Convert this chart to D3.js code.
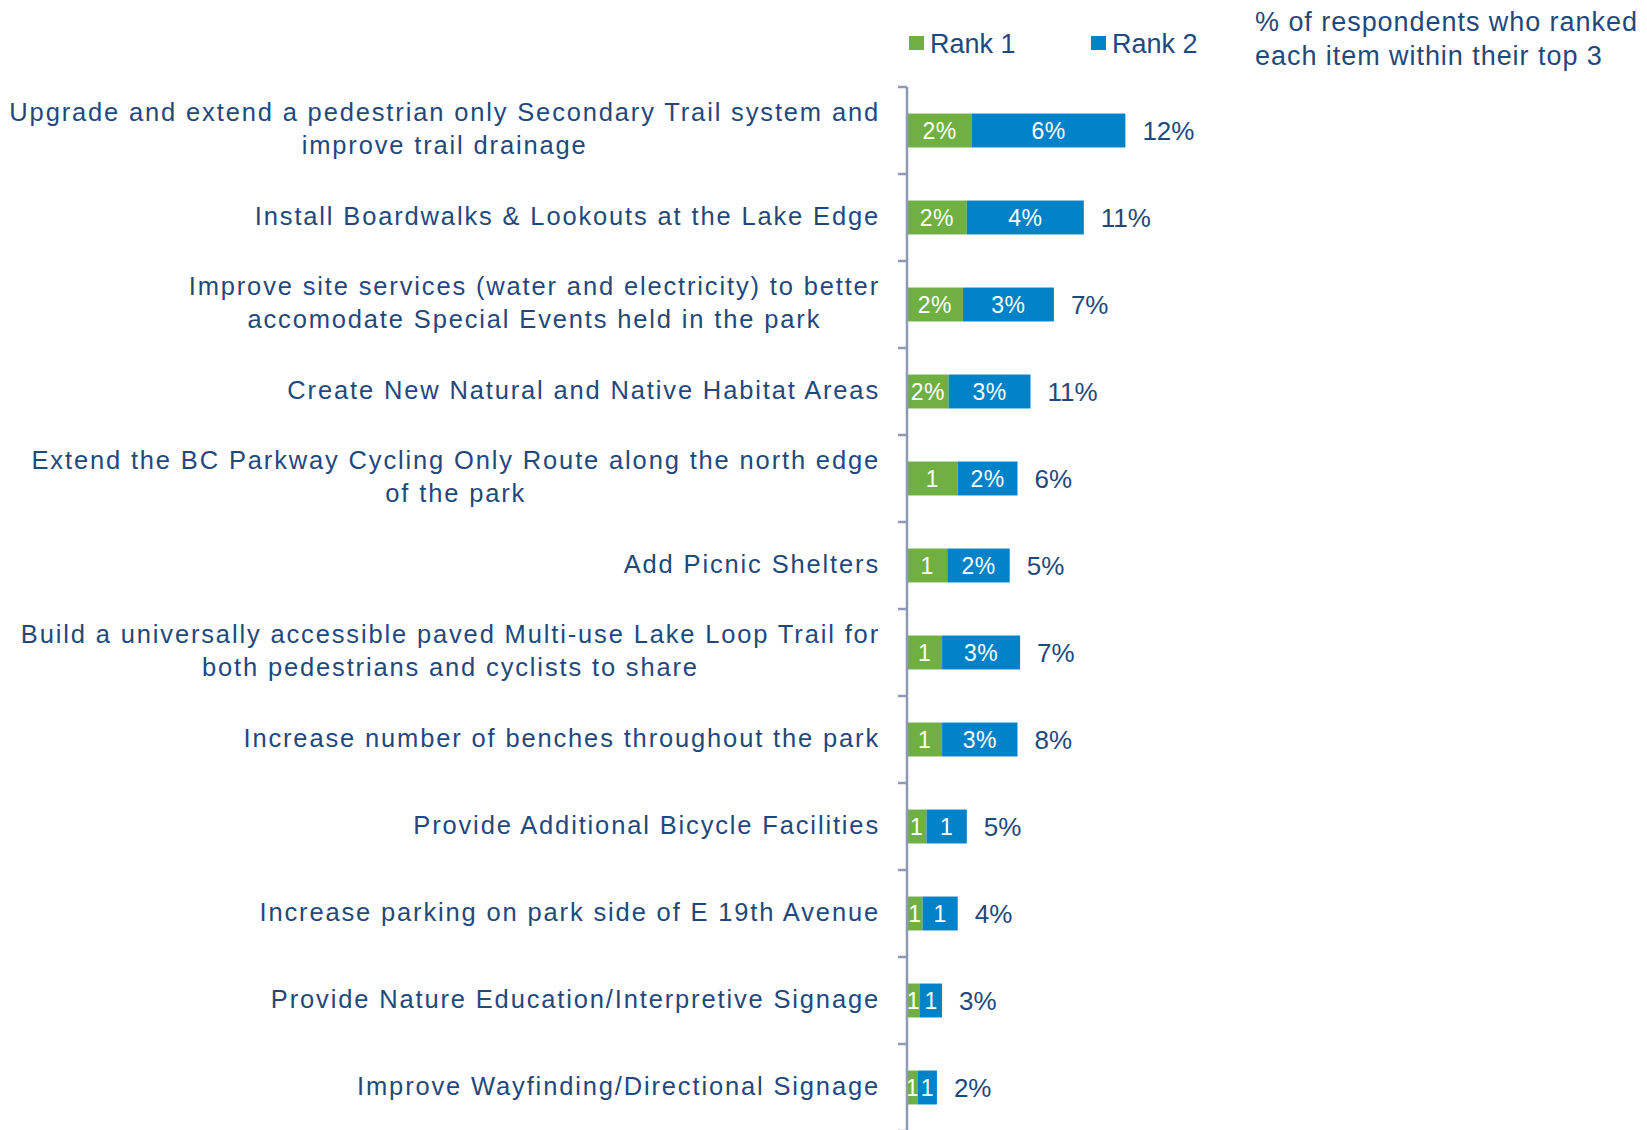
<!DOCTYPE html>
<html>
<head>
<meta charset="utf-8">
<script src="https://cdn.jsdelivr.net/npm/d3@7"></script>
<style>
  body { margin: 0; background: #fff; }
  svg text { font-family: "Liberation Sans", Arial, sans-serif; }
</style>
</head>
<body>
<div id="chart"></div>
<script>
// categories, top to bottom (each entry is the wrapped lines)
const categories = [
  ["Upgrade and extend a pedestrian only Secondary Trail system and", "improve trail drainage"],
  ["Install Boardwalks & Lookouts at the Lake Edge"],
  ["Improve site services (water and electricity) to better", "accomodate Special Events held in the park"],
  ["Create New Natural and Native Habitat Areas"],
  ["Extend the BC Parkway Cycling Only Route along the north edge", "of the park"],
  ["Add Picnic Shelters"],
  ["Build a universally accessible paved Multi-use Lake Loop Trail for", "both pedestrians and cyclists to share"],
  ["Increase number of benches throughout the park"],
  ["Provide Additional Bicycle Facilities"],
  ["Increase parking on park side of E 19th Avenue"],
  ["Provide Nature Education/Interpretive Signage"],
  ["Improve Wayfinding/Directional Signage"]
];
const rank1 = [2.5, 2.3, 2.15, 1.6, 1.95, 1.55, 1.35, 1.35, 0.75, 0.6, 0.5, 0.42];
const rank2 = [5.9, 4.5, 3.5, 3.15, 2.3, 2.4, 3.0, 2.9, 1.55, 1.35, 0.85, 0.73];
const rank1Labels = ["2%", "2%", "2%", "2%", "1", "1", "1", "1", "1", "1", "1", "1"];
const rank2Labels = ["6%", "4%", "3%", "3%", "2%", "2%", "3%", "3%", "1", "1", "1", "1"];
const top3Labels = ["12%", "11%", "7%", "11%", "6%", "5%", "7%", "8%", "5%", "4%", "3%", "2%"];
const seriesNames = ["Rank 1", "Rank 2"];
const colors = ["#70B043", "#0082C8"];
const noteLines = ["% of respondents who ranked", "each item within their top 3"];

const W = 1647, H = 1130;
const x0 = 907, plotTop = 87, plotBottom = 1131;
const navy = "#1F497D";

const svg = d3.select("#chart").append("svg")
  .attr("width", W).attr("height", H);

const y = d3.scaleBand()
  .domain(d3.range(categories.length))
  .range([plotTop, plotBottom])
  .paddingInner(0.61)
  .paddingOuter(0.305);

const x = d3.scaleLinear().domain([0, 10]).range([x0, x0 + 260]);

// stacked data
const rows = categories.map((c, i) => ({i, r1: rank1[i], r2: rank2[i]}));
const stack = d3.stack().keys(["r1", "r2"])(rows);
const labelSets = [rank1Labels, rank2Labels];

const layers = svg.selectAll("g.layer").data(stack).join("g")
  .attr("class", "layer")
  .attr("fill", (d, k) => colors[k]);

layers.selectAll("rect").data(d => d).join("rect")
  .attr("x", d => x(d[0]))
  .attr("y", d => y(d.data.i))
  .attr("width", d => x(d[1]) - x(d[0]))
  .attr("height", y.bandwidth());

layers.each(function(layer, k) {
  d3.select(this).selectAll("text").data(layer).join("text")
    .attr("x", d => (x(d[0]) + x(d[1])) / 2)
    .attr("y", d => y(d.data.i) + y.bandwidth() / 2)
    .attr("dy", "0.36em")
    .attr("text-anchor", "middle")
    .attr("fill", "#fff")
    .attr("font-size", 23)
    .attr("letter-spacing", 0.5)
    .text(d => labelSets[k][d.data.i]);
});

// totals
svg.append("g").selectAll("text").data(rows).join("text")
  .attr("x", d => x(d.r1 + d.r2) + 17)
  .attr("y", d => y(d.i) + y.bandwidth() / 2)
  .attr("dy", "0.36em")
  .attr("fill", navy)
  .attr("font-size", 26)
  .text(d => top3Labels[d.i]);

// axis line + ticks between categories
const axisCol = "#8E99B6";
svg.append("line")
  .attr("x1", x0).attr("x2", x0)
  .attr("y1", plotTop).attr("y2", H)
  .attr("stroke", axisCol).attr("stroke-width", 2.5);
svg.append("g").selectAll("line").data(d3.range(categories.length + 1)).join("line")
  .attr("x1", x0 - 9).attr("x2", x0)
  .attr("y1", i => plotTop + i * y.step())
  .attr("y2", i => plotTop + i * y.step())
  .attr("stroke", axisCol).attr("stroke-width", 2.5);

// category labels: block right-aligned, lines centered within block
const labelRight = 880, lineGap = 33.5;
const catG = svg.append("g").attr("fill", navy).attr("font-size", 25.5).attr("letter-spacing", 1.85);
categories.forEach((lines, i) => {
  const cy = y(i) + y.bandwidth() / 2 - 2;
  const g = catG.append("g");
  const texts = lines.map((ln, j) => g.append("text")
    .attr("y", cy + (j - (lines.length - 1) / 2) * lineGap)
    .attr("dy", "0.36em")
    .attr("text-anchor", "middle")
    .text(ln));
  const wMax = d3.max(texts, t => t.node().getComputedTextLength());
  texts.forEach(t => t.attr("x", labelRight - wMax / 2));
});

// legend
const legX = [909, 1091];
seriesNames.forEach((s, k) => {
  svg.append("rect")
    .attr("x", legX[k]).attr("y", 36)
    .attr("width", 15).attr("height", 14)
    .attr("fill", colors[k]);
  svg.append("text")
    .attr("x", legX[k] + 21).attr("y", 43)
    .attr("dy", "0.36em")
    .attr("fill", navy)
    .attr("font-size", 27)
    .text(s);
});

// note
svg.append("g").selectAll("text").data(noteLines).join("text")
  .attr("x", 1255)
  .attr("y", (d, j) => 21 + j * 34)
  .attr("dy", "0.36em")
  .attr("fill", navy)
  .attr("font-size", 27)
  .attr("letter-spacing", 0.95)
  .text(d => d);
</script>
</body>
</html>
